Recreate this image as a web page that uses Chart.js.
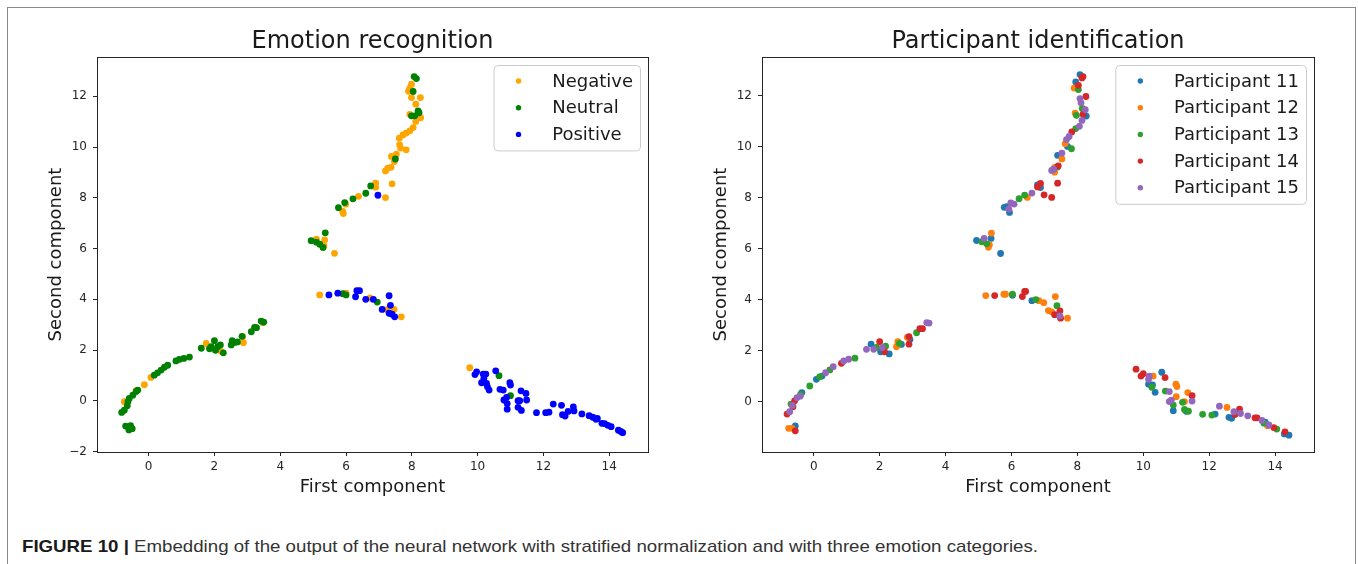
<!DOCTYPE html>
<html>
<head>
<meta charset="utf-8">
<script src="https://cdn.jsdelivr.net/npm/chart.js@4/dist/chart.umd.min.js"></script>
<style>
body{margin:0;background:#fff;width:1358px;height:564px;overflow:hidden;position:relative;font-family:"DejaVu Sans",sans-serif}
#frame{position:absolute;left:7px;top:7px;width:1347px;height:600px;border:1.5px solid #8a8a8a;border-bottom:none}
canvas{position:absolute;top:0}
#leftChart{left:0}
#rightChart{left:680px}
#caption{position:absolute;left:22px;top:537px;white-space:nowrap;font:17px "Liberation Sans Narrow","Liberation Sans",Arial,sans-serif;color:#333;line-height:20px;transform-origin:0 0}
#caption b{color:#1a1a1a}
</style>
</head>
<body>
<div id="frame"></div>
<canvas id="leftChart" width="680" height="500"></canvas>
<canvas id="rightChart" width="678" height="500"></canvas>
<div id="caption"><b>FIGURE 10 |</b> Embedding of the output of the neural network with stratified normalization and with three emotion categories.</div>
<script>
/* DATA */

const xTicks = [0, 2, 4, 6, 8, 10, 12, 14];
const yTicksLeft = [-2, 0, 2, 4, 6, 8, 10, 12];
const yTicksRight = [0, 2, 4, 6, 8, 10, 12];

const emotionLabels = ["Negative", "Neutral", "Positive"];
const participantLabels = ["Participant 11", "Participant 12", "Participant 13", "Participant 14", "Participant 15"];

const negative = [
  [-0.74,-0.04],[-0.38,0.4],[-0.13,0.63],[0.07,0.92],[1.75,2.26],[2.2,1.95],[2.86,2.52],[2.88,2.29],[3.47,3.07],
  [5.2,4.17],[6.0,4.24],[6.73,4.05],[7.25,3.59],[7.46,3.6],[7.68,3.31],
  [9.76,1.3],
  [5.1,6.37],[5.35,6.34],[5.33,6.1],[5.65,5.81],[5.9,7.46],[5.92,7.38],[5.99,7.75],[6.38,8.06],[6.9,8.58],
  [6.9,8.42],[7.2,8.01],[7.4,8.55],[7.2,9.06],[7.27,9.17],[7.37,9.2],[7.47,9.43],[7.38,9.63],[7.53,9.72],
  [7.63,10.09],[7.62,10.35],[7.73,10.48],[7.83,10.55],[7.66,9.96],[7.83,9.89],[7.94,10.64],[8.04,10.77],
  [8.12,11.01],[8.27,11.16],[7.94,11.29],[8.12,11.69],[8.26,11.95],[7.99,11.95],[7.94,12.32],[7.99,12.48],[7.9,12.2]
];
const neutral = [
  [-0.7,-1.0],[-0.6,-1.05],[-0.55,-0.98],[-0.5,-1.1],[-0.6,-1.15],[-0.82,-0.46],[-0.74,-0.37],[-0.63,-0.04],
  [-0.65,-0.2],[-0.59,0.09],[-0.48,0.22],[-0.38,0.36],[-0.33,0.42],[0.17,1.01],[0.27,1.1],[0.38,1.21],[0.48,1.32],
  [0.58,1.4],[0.83,1.57],[0.93,1.63],[1.07,1.67],[1.24,1.72],[1.6,2.07],[1.85,2.05],[1.9,2.13],[2.0,2.37],
  [2.03,1.99],[2.1,2.13],[2.18,2.2],[2.27,1.89],[2.51,2.2],[2.54,2.37],[2.62,2.3],[2.7,2.32],[2.84,2.54],
  [3.12,2.72],[3.22,2.89],[3.28,2.88],[3.42,3.14],[3.5,3.1],
  [5.9,4.22],[6.0,4.17],[6.95,3.89],
  [10.65,0.99],[11.0,0.2],
  [4.94,6.31],[5.1,6.25],[5.2,6.17],[5.3,6.04],[5.37,6.62],[5.77,7.61],[5.96,7.81],[6.21,7.96],[6.6,8.18],
  [6.75,8.47],[7.5,9.53],[7.99,11.23],[8.09,11.23],[8.19,11.43],[8.22,11.35],[8.04,12.19],[8.07,12.78],[8.14,12.7]
];
const positive = [
  [5.48,4.17],[5.75,4.24],[6.29,4.1],[6.33,4.34],[6.41,4.34],[6.6,4.0],[6.83,4.0],[7.1,3.6],[7.31,3.45],
  [7.31,4.14],[7.35,3.76],[7.4,3.41],[7.48,3.31],
  [6.97,8.1],
  [9.97,1.14],[9.92,1.03],[10.17,1.05],[10.25,1.05],[10.19,0.88],[10.12,0.71],[10.27,0.68],[10.35,0.42],
  [10.3,0.55],[10.55,1.18],[10.68,0.45],[10.78,0.42],[10.98,0.71],[11.0,0.62],[10.8,0.03],[10.88,0.13],
  [10.9,-0.11],[10.9,-0.33],[11.23,0.0],[11.28,0.0],[11.23,-0.26],[11.33,-0.38],[11.32,0.39],[11.47,0.29],
  [11.49,0.03],[11.79,-0.47],[12.07,-0.47],[12.17,-0.45],[12.3,-0.13],[12.55,-0.18],[12.58,-0.55],[12.66,-0.6],
  [12.75,-0.42],[12.91,-0.24],[12.93,-0.4],[13.17,-0.52],[13.39,-0.59],[13.5,-0.65],[13.6,-0.73],[13.64,-0.7],
  [13.78,-0.89],[13.86,-0.9],[13.96,-0.97],[14.06,-1.02],[14.28,-1.16],[14.35,-1.21],[14.41,-1.26]
];

const p11 = [
  [-0.56,-0.96],[-0.36,0.35],[0.08,0.87],[0.25,1.0],[1.74,2.25],[2.03,1.95],[2.29,1.87],[2.66,2.24],[2.92,2.43],
  [6.03,4.17],[6.62,3.96],
  [10.16,0.68],[10.28,0.65],[10.36,0.36],[10.56,1.15],[10.91,-0.36],[11.3,-0.38],[12.18,-0.49],[12.6,-0.62],
  [12.68,-0.66],[13.7,-0.81],[14.28,-1.27],[14.42,-1.32],
  [4.94,6.32],[5.38,6.4],[5.67,5.81],[5.78,7.62],[5.85,7.65],[5.94,7.42],[6.79,8.5],[6.88,8.4],[7.4,9.66],
  [7.7,10.01],[8.27,11.2],[7.95,12.54],[8.08,12.83]
];
const p12 = [
  [-0.76,-1.05],[-0.66,-1.05],[2.51,2.15],[2.55,2.35],[2.84,2.52],
  [5.22,4.16],[5.77,4.21],[5.82,4.21],[6.83,3.96],[6.98,3.88],[7.12,3.57],[7.22,3.52],[7.33,4.12],[7.7,3.27],
  [10.3,1.0],[10.99,0.68],[11.02,0.59],[11.0,0.19],[11.35,0.35],[11.25,0.0],[12.54,-0.23],[13.77,-0.95],
  [5.33,6.15],[5.3,6.05],[5.39,6.61],[6.48,8.01],[7.31,9.19],[7.31,9.0],[7.53,9.52],[7.63,10.12],[7.93,11.32],[7.9,12.3]
];
const p13 = [
  [-0.69,-0.1],[-0.4,0.28],[-0.12,0.61],[0.18,0.97],[0.49,1.24],[1.25,1.7],[1.9,2.12],[2.18,2.17],[2.6,2.28],[3.12,2.7],
  [6.03,4.21],[6.74,4.0],[7.38,3.76],
  [10.26,0.56],[10.67,0.41],[10.91,-0.14],[11.19,-0.03],[11.25,-0.31],[11.37,-0.38],[11.8,-0.5],[12.08,-0.53],
  [13.66,-0.85],[14.05,-1.08],
  [5.1,6.27],[5.25,6.19],[6.23,7.96],[6.4,8.1],[7.4,9.2],[7.82,9.92],[7.95,10.71],[7.97,11.23],[8.15,11.5],[8.03,12.24]
];
const p14 = [
  [-0.56,-1.15],[-0.81,-0.49],[-0.63,-0.2],[-0.58,0.03],[0.84,1.5],[2.0,2.35],[2.15,1.95],[2.89,2.55],[2.89,2.25],
  [3.22,2.86],[3.3,2.86],
  [5.49,4.16],[6.33,4.12],[6.4,4.32],[6.43,4.32],[7.31,3.41],[7.47,3.56],[7.49,3.27],
  [9.78,1.27],[9.93,1.0],[10.0,1.09],[10.66,0.94],[11.48,0.23],[12.78,-0.51],[12.92,-0.3],[13.39,-0.64],
  [13.45,-0.64],[13.96,-1.02],[14.3,-1.19],
  [6.79,8.42],[6.88,8.56],[6.99,8.11],[7.22,8.01],[7.4,8.57],[7.42,9.25],[7.83,10.58],[8.17,11.27],[8.26,11.97],
  [8.03,12.41],[8.14,12.7],[8.17,12.75]
];
const p15 = [
  [-0.73,-0.4],[-0.65,-0.15],[-0.51,0.15],[-0.41,0.21],[0.36,1.13],[0.59,1.37],[0.91,1.59],[1.06,1.66],[1.6,2.05],
  [1.82,2.05],[2.08,2.12],[3.43,3.1],[3.5,3.08],
  [7.47,3.36],
  [10.18,1.0],[10.16,0.87],[10.79,0.39],[10.79,0.0],[10.85,0.05],[11.48,0.02],[12.31,-0.18],[12.75,-0.4],
  [12.95,-0.47],[13.17,-0.56],[13.6,-0.74],[13.81,-0.92],
  [5.17,6.4],[5.98,7.79],[6.08,7.75],[5.92,7.55],[6.62,8.18],[7.22,9.07],[7.28,9.12],[7.53,9.75],[7.67,10.28],
  [7.75,10.4],[8.06,10.8],[8.14,11.03],[8.24,11.45],[8.11,11.72],[8.08,11.89]
];

const emotionColors = ["#ffa500", "#008000", "#0000ff"];
const participantColors = ["#1f77b4", "#ff7f0e", "#2ca02c", "#d62728", "#9467bd"];

/* DECORATION: frame, titles, axis labels, legend */

const decor = {
  id: "decor",
  afterDraw(chart, args, o) {
    const ctx = chart.ctx;
    const a = chart.chartArea;
    const cx = (a.left + a.right) / 2;

    ctx.save();
    ctx.strokeStyle = "#262626";
    ctx.lineWidth = 1;
    ctx.strokeRect(a.left + 0.5, a.top + 0.5, a.right - a.left, a.bottom - a.top);

    ctx.fillStyle = "#1a1a1a";
    ctx.textAlign = "center";
    ctx.textBaseline = "alphabetic";
    ctx.font = '24px "DejaVu Sans"';
    ctx.fillText(o.title, cx, 48);

    ctx.font = '18px "DejaVu Sans"';
    ctx.fillText(o.xLabel, cx, 492);

    ctx.save();
    ctx.translate(a.left - 36, (a.top + a.bottom) / 2);
    ctx.rotate(-Math.PI / 2);
    ctx.fillText(o.yLabel, 0, 0);
    ctx.restore();

    // legend in the upper right corner
    const sets = chart.data.datasets;
    ctx.font = '18px "DejaVu Sans"';
    let maxW = 0;
    sets.forEach(ds => { maxW = Math.max(maxW, ctx.measureText(ds.label).width); });
    const rowH = 26.7;
    const boxW = 58.7 + maxW + 7;
    const boxH = 32 + (sets.length - 1) * rowH;
    const bx = a.right - 8 - boxW;
    const by = a.top + 8;

    ctx.beginPath();
    ctx.roundRect(bx + 0.5, by + 0.5, boxW, boxH, 4);
    ctx.fillStyle = "rgba(255,255,255,0.8)";
    ctx.fill();
    ctx.strokeStyle = "#cccccc";
    ctx.stroke();

    ctx.textAlign = "left";
    ctx.textBaseline = "middle";
    sets.forEach((ds, i) => {
      const y = by + 16 + i * rowH;
      ctx.beginPath();
      ctx.arc(bx + 25, y, 2.7, 0, Math.PI * 2);
      ctx.fillStyle = ds.backgroundColor;
      ctx.fill();
      ctx.fillStyle = "#1a1a1a";
      ctx.fillText(ds.label, bx + 58.7, y + 1);
    });
    ctx.restore();
  }
};

/* CHART FACTORY */

function makeScatter(id, labels, series, colors, yTicks, yMin, yMax, yWidth, padRight, texts) {

  const datasets = series.map((pts, i) => ({
    label: labels[i],
    data: pts.map(p => ({ x: p[0], y: p[1] })),
    backgroundColor: colors[i],
    borderWidth: 0,
    pointRadius: 3.4,
    pointHoverRadius: 3.4,
    order: series.length - 1 - i
  }));

  const tickFmt = v => (v < 0 ? "\u2212" + Math.abs(v) : String(v));

  return new Chart(document.getElementById(id), {
    type: "scatter",
    data: { datasets },
    options: {
      responsive: false,
      animation: false,
      devicePixelRatio: 1,
      events: [],
      layout: { padding: { left: 0, top: 57, right: padRight, bottom: 0 } },
      plugins: {
        legend: { display: false },
        tooltip: { enabled: false },
        decor: texts
      },
      scales: {
        x: {
          type: "linear",
          min: -1.57,
          max: 15.18,
          afterBuildTicks: s => { s.ticks = xTicks.map(v => ({ value: v })); },
          afterFit: s => { s.height = 48; },
          border: { display: false },
          grid: { drawOnChartArea: false, drawTicks: true, tickLength: 4, color: "#262626" },
          ticks: { color: "#262626", font: { family: "DejaVu Sans", size: 12 }, padding: 4, callback: tickFmt }
        },
        y: {
          type: "linear",
          min: yMin,
          max: yMax,
          afterBuildTicks: s => { s.ticks = yTicks.map(v => ({ value: v })); },
          afterFit: s => { s.width = yWidth; },
          border: { display: false },
          grid: { drawOnChartArea: false, drawTicks: true, tickLength: 4, color: "#262626" },
          ticks: { color: "#262626", font: { family: "DejaVu Sans", size: 12 }, padding: 6, callback: tickFmt }
        }
      }
    },
    plugins: [decor]
  });
}

makeScatter(
  "leftChart",
  emotionLabels,
  [negative, neutral, positive],
  emotionColors,
  yTicksLeft, -2.02, 13.55, 97, 32,
  { title: "Emotion recognition", xLabel: "First component", yLabel: "Second component" }
);

makeScatter(
  "rightChart",
  participantLabels,
  [p11, p12, p13, p14, p15],
  participantColors,
  yTicksRight, -1.98, 13.52, 82, 44,
  { title: "Participant identification", xLabel: "First component", yLabel: "Second component" }
);

/* CAPTION WIDTH */

const cap = document.getElementById("caption");
const capW = cap.getBoundingClientRect().width;
cap.style.transform = "scaleX(" + (1016 / capW) + ")";
</script>
</body>
</html>
